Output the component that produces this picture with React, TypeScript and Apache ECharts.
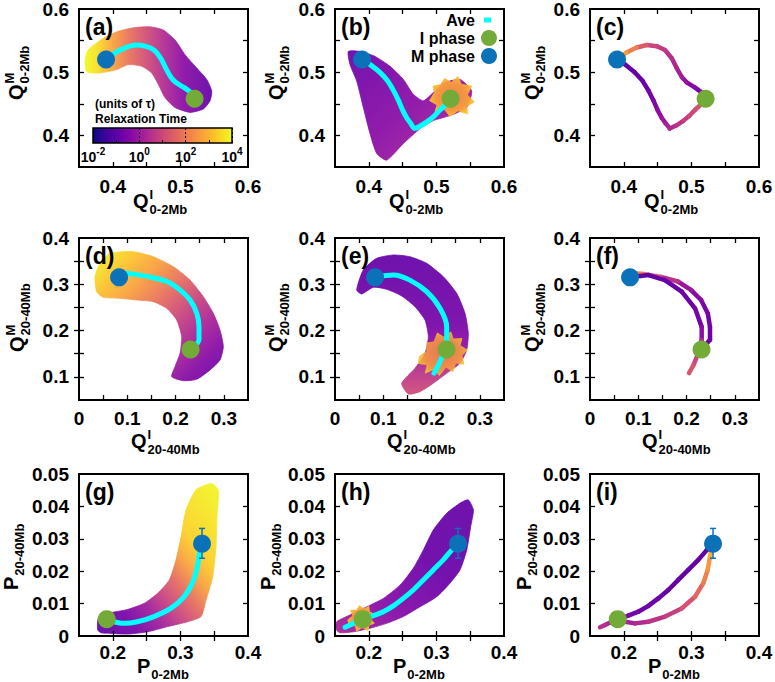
import React, { useEffect, useRef } from "react";
import * as echarts from "echarts";

const FONT = '"Liberation Sans", Arial, Helvetica, sans-serif';

// ---------------- axis ranges, tick labels, tick marks ----------------
const qShortRange = [0.35, 0.6];
const qShortLabels = [0.4, 0.5, 0.6];
const qShortTicks = [0.4, 0.45, 0.5, 0.55];
const qLongXRange = [0, 0.35];
const qLongXLabels = [0, 0.1, 0.2, 0.3];
const qLongXTicks = [0.05, 0.1, 0.15, 0.2, 0.25, 0.3];
const qLongYRange = [0.05, 0.4];
const qLongYLabels = [0.1, 0.2, 0.3, 0.4];
const qLongYTicks = [0.1, 0.15, 0.2, 0.25, 0.3, 0.35];
const pXRange = [0.15, 0.4];
const pXLabels = [0.2, 0.3, 0.4];
const pXTicks = [0.2, 0.25, 0.3, 0.35];
const pYRange = [0, 0.05];
const pYLabels = [0, 0.01, 0.02, 0.03, 0.04, 0.05];
const pYTicks = [0.01, 0.02, 0.03, 0.04];
const colorbarExponents = [-2, 0, 2, 4];

// ---------------- phase markers ----------------
const mPhaseQ02 = [[0.39, 0.52]];
const iPhaseQ02 = [[0.521, 0.458]];
const mPhaseQ2040 = [[0.083, 0.315]];
const iPhaseQ2040 = [[0.231, 0.159]];
const mPhaseP = [[0.332, 0.0285]];
const iPhaseP = [[0.191, 0.0052]];
const mPhasePErr = [[0.332, 0.0285, 0.024, 0.0332]]; // x, y, low, high

// ---------------- averaged trajectories [x, y, log10(relaxation time)] ----------------
const aveItoMQ02 = [
  [0.521, 0.46, -0.8], [0.515, 0.468, -0.7], [0.505, 0.476, -0.5], [0.493, 0.484, -0.2],
  [0.486, 0.492, 0.0], [0.478, 0.507, 0.3], [0.471, 0.522, 0.4], [0.461, 0.535, 0.6],
  [0.449, 0.541, 0.8], [0.434, 0.543, 1.1], [0.419, 0.539, 1.7], [0.404, 0.531, 2.5],
  [0.39, 0.52, 2.8],
];
const aveMtoIQ02 = [
  [0.39, 0.52, -0.9], [0.402, 0.512, -0.9], [0.416, 0.5, -0.85], [0.428, 0.486, -0.8],
  [0.437, 0.47, -0.7], [0.444, 0.455, -0.5], [0.45, 0.44, -0.3], [0.456, 0.428, -0.1],
  [0.462, 0.419, 0.1], [0.468, 0.411, 0.3], [0.478, 0.416, 0.5], [0.488, 0.423, 0.7],
  [0.497, 0.431, 0.9], [0.506, 0.441, 1.1], [0.515, 0.45, 1.3], [0.521, 0.458, 1.5],
];
const aveItoMQ2040 = [
  [0.232, 0.16, -0.8], [0.2485, 0.18, -0.75], [0.2485, 0.208, -0.7], [0.244, 0.237, -0.6],
  [0.23, 0.266, -0.45], [0.209, 0.288, -0.2], [0.182, 0.306, 0.2], [0.147, 0.316, 0.9],
  [0.1125, 0.322, 1.7], [0.092, 0.324, 2.4], [0.083, 0.315, 2.9],
];
const aveMtoIQ2040 = [
  [0.083, 0.315, -0.9], [0.121, 0.32, -0.9], [0.155, 0.309, -0.85], [0.19, 0.284, -0.8],
  [0.2175, 0.248, -0.7], [0.2313, 0.208, -0.5], [0.2313, 0.18, 0.0], [0.2243, 0.151, 0.7],
  [0.214, 0.125, 1.2], [0.205, 0.108, 1.5],
];
const aveItoMP = [
  [0.191, 0.0052, -0.2], [0.2018, 0.0044, 0.1], [0.2166, 0.0039, 0.3], [0.2363, 0.0044, 0.5],
  [0.261, 0.006, 0.7], [0.2856, 0.0085, 1.0], [0.3053, 0.0121, 1.4], [0.3176, 0.0163, 1.9],
  [0.3241, 0.0204, 2.3], [0.3275, 0.0245, 2.7], [0.33, 0.0271, 3.1], [0.332, 0.0283, 3.3],
];
const aveMtoIP = [
  [0.332, 0.0283, -0.9], [0.3226, 0.0265, -0.9], [0.3102, 0.0235, -0.9], [0.2954, 0.0204, -0.85],
  [0.2806, 0.0173, -0.85], [0.2658, 0.0142, -0.8], [0.251, 0.0116, -0.8], [0.2363, 0.0093, -0.75],
  [0.2215, 0.0075, -0.7], [0.2067, 0.0063, -0.6], [0.191, 0.0052, -0.3], [0.1821, 0.0044, 0.1],
  [0.1722, 0.0034, 0.4], [0.1648, 0.0027, 0.6],
];

// ---------------- outlines of the bundles of individual trajectories ----------------
const bundleA = [
  [0.359, 0.52], [0.3638, 0.5355], [0.386, 0.5536], [0.4058, 0.564], [0.4303, 0.5703],
  [0.455, 0.5719], [0.4747, 0.5667], [0.492, 0.551], [0.5068, 0.5277], [0.5241, 0.5067],
  [0.5389, 0.4886], [0.5463, 0.4703], [0.5438, 0.4547], [0.5339, 0.4417], [0.5142, 0.4364],
  [0.492, 0.4442], [0.4772, 0.4598], [0.4673, 0.4808], [0.4575, 0.4989], [0.4427, 0.5094],
  [0.4229, 0.512], [0.4058, 0.5042], [0.3811, 0.4989], [0.3614, 0.5005],
];
const bundleB = [
  [0.3697, 0.5328], [0.387, 0.5328], [0.4092, 0.525], [0.4314, 0.5094], [0.4511, 0.4886],
  [0.4658, 0.4652], [0.4806, 0.4547], [0.4954, 0.4677], [0.5127, 0.4833], [0.5349, 0.4886],
  [0.5522, 0.4703], [0.5448, 0.4442], [0.5201, 0.4313], [0.4954, 0.4234], [0.4757, 0.4105],
  [0.4511, 0.387], [0.4265, 0.3609], [0.4117, 0.3714], [0.4018, 0.4027], [0.3919, 0.4442],
  [0.3821, 0.4859], [0.3722, 0.512],
];
const bundleD = [
  [0.0331, 0.3164], [0.0435, 0.3453], [0.0642, 0.3669], [0.1125, 0.3704], [0.1539, 0.3596],
  [0.1953, 0.338], [0.2299, 0.3093], [0.2575, 0.2732], [0.2782, 0.2373], [0.292, 0.2012],
  [0.2989, 0.1652], [0.292, 0.1364], [0.2713, 0.1148], [0.2437, 0.0947], [0.216, 0.0917],
  [0.192, 0.1003], [0.1988, 0.1219], [0.2092, 0.1509], [0.2127, 0.1868], [0.2023, 0.2228],
  [0.1816, 0.2481], [0.1539, 0.2624], [0.1194, 0.266], [0.0849, 0.2697], [0.0503, 0.2719],
  [0.0366, 0.284],
];
const bundleE = [
  [0.0449, 0.2877], [0.0586, 0.3309], [0.0863, 0.3561], [0.1208, 0.3633], [0.1553, 0.3596],
  [0.19, 0.3453], [0.2243, 0.3164], [0.252, 0.2805], [0.2692, 0.2373], [0.2761, 0.1941],
  [0.2727, 0.158], [0.2589, 0.1293], [0.2313, 0.1077], [0.2036, 0.0861], [0.176, 0.0679],
  [0.1518, 0.0629], [0.1381, 0.0861], [0.1657, 0.1185], [0.1864, 0.1509], [0.1933, 0.1868],
  [0.1864, 0.2228], [0.1657, 0.2516], [0.1381, 0.2747], [0.107, 0.2892], [0.0793, 0.2935],
  [0.0553, 0.279],
];
const bundleG = [
  [0.1776, 0.0019], [0.1786, 0.0055], [0.1925, 0.007], [0.222, 0.0082], [0.2466, 0.0101],
  [0.2664, 0.0132], [0.2836, 0.0173], [0.2935, 0.0235], [0.3009, 0.0306], [0.3083, 0.0389],
  [0.3231, 0.0451], [0.3453, 0.0471], [0.3561, 0.0451], [0.3541, 0.0368], [0.3527, 0.0276],
  [0.3478, 0.0183], [0.3379, 0.0111], [0.3305, 0.006], [0.3108, 0.0044], [0.2812, 0.0029],
  [0.2516, 0.0013], [0.222, 0.0006], [0.1973, 0.0008], [0.1825, 0.001],
];
const bundleH = [
  [0.152, 0.0019], [0.1525, 0.0044], [0.1722, 0.0065], [0.1969, 0.009], [0.2215, 0.0116],
  [0.2462, 0.0157], [0.2658, 0.0209], [0.2806, 0.0265], [0.2954, 0.0327], [0.3152, 0.0379],
  [0.3349, 0.041], [0.3472, 0.042], [0.3547, 0.0389], [0.3507, 0.0337], [0.3448, 0.0265],
  [0.3349, 0.0204], [0.3201, 0.0163], [0.3004, 0.0121], [0.2757, 0.009], [0.2511, 0.006],
  [0.2265, 0.0039], [0.2018, 0.0024], [0.1771, 0.0013], [0.1574, 0.001],
];
// late-time (hot) clouds around the I phase
const hotB = [
  [0.49, 0.455], [0.497, 0.468], [0.495, 0.478], [0.506, 0.48], [0.512, 0.49], [0.522, 0.484],
  [0.532, 0.493], [0.537, 0.481], [0.552, 0.478], [0.546, 0.464], [0.556, 0.453], [0.545, 0.446],
  [0.546, 0.434], [0.532, 0.439], [0.52, 0.43], [0.512, 0.441], [0.498, 0.438], [0.501, 0.448],
];
const hotE = [
  [0.175, 0.145], [0.19, 0.155], [0.19, 0.173], [0.205, 0.176], [0.212, 0.195], [0.225, 0.186],
  [0.24, 0.197], [0.245, 0.182], [0.263, 0.183], [0.259, 0.168], [0.274, 0.158], [0.263, 0.146],
  [0.267, 0.127], [0.25, 0.13], [0.244, 0.111], [0.23, 0.121], [0.216, 0.103], [0.206, 0.117],
  [0.187, 0.108], [0.191, 0.126], [0.172, 0.129],
];
const hotH = [
  [0.169, 0.005], [0.176, 0.0062], [0.173, 0.008], [0.182, 0.0079], [0.186, 0.0094], [0.193, 0.0084],
  [0.2, 0.0091], [0.201, 0.0075], [0.207, 0.0068], [0.203, 0.0052], [0.208, 0.0039], [0.2, 0.0033],
  [0.199, 0.0017], [0.19, 0.0026], [0.182, 0.0015], [0.18, 0.0031], [0.171, 0.0033],
];

// ---------------- texts ----------------
const panelLetters = ["(a)", "(b)", "(c)", "(d)", "(e)", "(f)", "(g)", "(h)", "(i)"];
const rowXTitles = [["Q", "I", "0-2Mb"], ["Q", "I", "20-40Mb"], ["P", "", "0-2Mb"]];
const rowYTitles = [["Q", "M", "0-2Mb"], ["Q", "M", "20-40Mb"], ["P", "", "20-40Mb"]];
const legendNames = ["Ave", "I phase", "M phase"];
const colorbarTitle = ["(units of \u03c4)", "Relaxation Time"];

// ---------------- style / layout ----------------
const COL_LEFT = [79, 335, 590];
const COL_W = 169;
const ROW_TOP = [9, 238, 474];
const ROW_H = [158, 162, 162];
const BLUE = "#0b72b9";
const GREEN = "#72ab37";
const CYAN = "#00ffff";
const PLASMA = ["#0d0887", "#41049d", "#6a00a8", "#8f0da4", "#b12a90", "#cc4778",
  "#e16462", "#f2844b", "#fca636", "#fcce25", "#f0f921"];

function hexRgb(h: string) {
  return [parseInt(h.slice(1, 3), 16), parseInt(h.slice(3, 5), 16), parseInt(h.slice(5, 7), 16)];
}
function plasma(logT: number) {
  const t = Math.min(1, Math.max(0, (logT + 2) / 6));
  const f = t * 10;
  const i = Math.min(9, Math.floor(f));
  const r = f - i;
  const a = hexRgb(PLASMA[i]);
  const b = hexRgb(PLASMA[i + 1]);
  const c = a.map((v, k) => Math.round(v + (b[k] - v) * r));
  return `rgb(${c[0]},${c[1]},${c[2]})`;
}
function lg(x0: number, y0: number, x1: number, y1: number, stops: number[][]) {
  return new echarts.graphic.LinearGradient(x0, y0, x1, y1,
    stops.map(([o, l]) => ({ offset: o, color: plasma(l) })));
}
function hotFill() {
  return new echarts.graphic.RadialGradient(0.5, 0.5, 0.65, [
    { offset: 0, color: plasma(2.2) }, { offset: 0.55, color: plasma(2.7) }, { offset: 1, color: plasma(3.7) },
  ]);
}

function bandSeries(env: number[][], fill: any, gi: number, z = 1, smooth = 0.2, opacity = 0.93) {
  return {
    type: "custom", xAxisIndex: gi, yAxisIndex: gi, data: env, z, silent: true, clip: true,
    renderItem: (params: any, api: any) => {
      if (params.dataIndex !== 0) return null;
      const pts = env.map((p) => api.coord(p));
      return { type: "polygon", shape: { points: pts, smooth }, style: { fill, stroke: fill, lineWidth: 0.8, opacity } };
    },
  };
}
function aveSeries(data: number[][], gi: number) {
  return {
    type: "line", name: "Ave", xAxisIndex: gi, yAxisIndex: gi, z: 3, silent: true,
    data: data.map((p) => [p[0], p[1]]), showSymbol: false, smooth: 0.3,
    lineStyle: { color: CYAN, width: 5, cap: "round", opacity: 1 },
  };
}
function segSeries(data: number[][], gi: number) {
  return {
    type: "custom", xAxisIndex: gi, yAxisIndex: gi, data, z: 3, silent: true,
    renderItem: (params: any, api: any) => {
      const i = params.dataIndex;
      if (i === 0) return null;
      const a = api.coord([data[i - 1][0], data[i - 1][1]]);
      const b = api.coord([data[i][0], data[i][1]]);
      return {
        type: "line", shape: { x1: a[0], y1: a[1], x2: b[0], y2: b[1] },
        style: { stroke: plasma((data[i - 1][2] + data[i][2]) / 2), lineWidth: 4.5, lineCap: "round" },
      };
    },
  };
}
function markerSeries(iData: number[][], mData: number[][], gi: number) {
  return [
    { type: "scatter", name: "I phase", xAxisIndex: gi, yAxisIndex: gi, data: iData, symbolSize: 18, z: 5, silent: true, itemStyle: { color: GREEN, opacity: 1 } },
    { type: "scatter", name: "M phase", xAxisIndex: gi, yAxisIndex: gi, data: mData, symbolSize: 18, z: 5, silent: true, itemStyle: { color: BLUE, opacity: 1 } },
  ];
}
function errSeries(data: number[][], gi: number) {
  return {
    type: "custom", xAxisIndex: gi, yAxisIndex: gi, data, z: 4, silent: true,
    renderItem: (params: any, api: any) => {
      const x = api.value(0);
      const lo = api.coord([x, api.value(2)]);
      const hi = api.coord([x, api.value(3)]);
      const st = { stroke: BLUE, lineWidth: 1.5 };
      return {
        type: "group", children: [
          { type: "line", shape: { x1: lo[0], y1: lo[1], x2: hi[0], y2: hi[1] }, style: st },
          { type: "line", shape: { x1: lo[0] - 3, y1: lo[1], x2: lo[0] + 3, y2: lo[1] }, style: st },
          { type: "line", shape: { x1: hi[0] - 3, y1: hi[1], x2: hi[0] + 3, y2: hi[1] }, style: st },
        ],
      };
    },
  };
}

function axisTitle(x: number, y: number, rotate: boolean, parts: string[]) {
  const [main, sup, sub] = parts;
  const mw = main === "Q" ? 15.6 : 13.3;
  const children: any[] = [
    { type: "text", x: 0, y: 0, style: { text: main, font: `bold 20px ${FONT}`, fill: "#000", align: "left", verticalAlign: "middle" } },
  ];
  if (sup) children.push({ type: "text", x: mw + 1, y: -7, style: { text: sup, font: `bold 13px ${FONT}`, fill: "#000", align: "left", verticalAlign: "middle" } });
  children.push({ type: "text", x: mw + 1, y: 8, style: { text: sub, font: `bold 13px ${FONT}`, fill: "#000", align: "left", verticalAlign: "middle" } });
  return { type: "group", x, y, rotation: rotate ? Math.PI / 2 : 0, silent: true, children };
}

function buildOption() {
  const rowAxes = [
    { xr: qShortRange, xl: qShortLabels, xt: qShortTicks, yr: qShortRange, yl: qShortLabels, yt: qShortTicks },
    { xr: qLongXRange, xl: qLongXLabels, xt: qLongXTicks, yr: qLongYRange, yl: qLongYLabels, yt: qLongYTicks },
    { xr: pXRange, xl: pXLabels, xt: pXTicks, yr: pYRange, yl: pYLabels, yt: pYTicks },
  ];
  const xLabelMargin = [10, 9, 7];
  const grid: any[] = [];
  const xMain: any[] = [], xMirror: any[] = [], yMain: any[] = [], yMirror: any[] = [];
  const tickStyle = { color: "#000", width: 1.3 };
  const labelStyle = { color: "#000", fontSize: 19, fontWeight: "bold", fontFamily: FONT };
  for (let i = 0; i < 9; i++) {
    const r = Math.floor(i / 3), c = i % 3;
    const ax = rowAxes[r];
    grid.push({
      left: COL_LEFT[c], top: ROW_TOP[r], width: COL_W, height: ROW_H[r],
      show: true, borderColor: "#000", borderWidth: 2, backgroundColor: "transparent",
      containLabel: false, outerBoundsMode: "none", z: 10,
    });
    const base = (range: number[]) => ({
      type: "value", gridIndex: i, min: range[0], max: range[1], z: 10,
      axisLine: { show: false }, splitLine: { show: false },
    });
    xMain.push({
      ...base(ax.xr), position: "bottom",
      axisTick: { show: true, inside: true, length: 5, customValues: ax.xt, lineStyle: tickStyle },
      axisLabel: { show: true, customValues: ax.xl, margin: xLabelMargin[r], ...labelStyle },
    });
    xMirror.push({
      ...base(ax.xr), position: "top",
      axisTick: { show: true, inside: true, length: 5, customValues: ax.xt, lineStyle: tickStyle },
      axisLabel: { show: false },
    });
    yMain.push({
      ...base(ax.yr), position: "left",
      axisTick: { show: true, inside: true, length: 5, customValues: ax.yt, lineStyle: tickStyle },
      axisLabel: { show: true, customValues: ax.yl, margin: 10, ...labelStyle },
    });
    yMirror.push({
      ...base(ax.yr), position: "right",
      axisTick: { show: true, inside: true, length: 5, customValues: ax.yt, lineStyle: tickStyle },
      axisLabel: { show: false },
    });
  }
  // colour bar (grid 9, axes 18)
  grid.push({ left: 93, top: 128, width: 139, height: 15, show: false, containLabel: false, outerBoundsMode: "none" });
  const cbX = {
    type: "value", gridIndex: 9, min: colorbarExponents[0], max: colorbarExponents[colorbarExponents.length - 1],
    interval: 2, position: "bottom", z: 10,
    axisLine: { show: false },
    axisTick: { show: true, inside: true, length: 3, lineStyle: { color: "#000", width: 1 } },
    minorTick: { show: true, splitNumber: 2, length: 3, lineStyle: { color: "#000", width: 1 } },
    splitLine: { show: true, lineStyle: { color: "#000", width: 1, type: [2, 2] } },
    axisLabel: {
      margin: 3, formatter: (v: number) => `{b|10}{s|${v}}`,
      rich: {
        b: { fontSize: 14, fontWeight: "bold", fontFamily: FONT, color: "#000", lineHeight: 21 },
        s: { fontSize: 10, fontWeight: "bold", fontFamily: FONT, color: "#000", verticalAlign: "top", lineHeight: 11 },
      },
    },
  };
  const cbY = { type: "value", gridIndex: 9, min: 0, max: 1, show: false };

  const barFill = new echarts.graphic.LinearGradient(0, 0, 1, 0,
    PLASMA.map((col, k) => ({ offset: k / (PLASMA.length - 1), color: col })));

  const gradA = lg(0, 0, 1, 0, [[0, 4], [0.1, 3.6], [0.22, 2.7], [0.35, 1.8], [0.5, 1.0], [0.62, 0.4], [0.78, -0.3], [1, -0.9]]);
  const gradB = lg(0, 0, 1, 1, [[0, -0.8], [0.5, -0.3], [0.8, 0.1], [1, 0.5]]);
  const gradD = lg(0, 0, 1, 1, [[0, 4], [0.15, 3.3], [0.3, 2.6], [0.45, 1.7], [0.6, 0.8], [0.72, 0.2], [0.85, -0.4], [1, -0.8]]);
  const gradE = lg(0, 0, 0, 1, [[0, -0.9], [0.5, -0.6], [0.65, -0.2], [0.8, 0.4], [1, 1.1]]);
  const gradG = lg(0, 1, 1, 0, [[0, -1.0], [0.18, -0.6], [0.3, 0.1], [0.4, 0.9], [0.5, 1.7], [0.6, 2.7], [0.7, 3.4], [1, 4]]);
  const gradH = lg(0, 1, 1, 0, [[0, 0.2], [0.3, -0.4], [0.6, -0.8], [1, -0.9]]);

  const series: any[] = [
    // (a)
    bandSeries(bundleA, gradA, 0), aveSeries(aveItoMQ02, 0), ...markerSeries(iPhaseQ02, mPhaseQ02, 0),
    // (b)
    bandSeries(bundleB, gradB, 1), bandSeries(hotB, hotFill(), 1, 2, 0, 0.95), aveSeries(aveMtoIQ02, 1),
    ...markerSeries(iPhaseQ02, mPhaseQ02, 1),
    // (c)
    segSeries(aveItoMQ02, 2), segSeries(aveMtoIQ02, 2), ...markerSeries(iPhaseQ02, mPhaseQ02, 2),
    // (d)
    bandSeries(bundleD, gradD, 3), aveSeries(aveItoMQ2040, 3), ...markerSeries(iPhaseQ2040, mPhaseQ2040, 3),
    // (e)
    bandSeries(bundleE, gradE, 4), bandSeries(hotE, hotFill(), 4, 2, 0, 0.85), aveSeries(aveMtoIQ2040, 4),
    ...markerSeries(iPhaseQ2040, mPhaseQ2040, 4),
    // (f)
    segSeries(aveItoMQ2040, 5), segSeries(aveMtoIQ2040, 5), ...markerSeries(iPhaseQ2040, mPhaseQ2040, 5),
    // (g)
    bandSeries(bundleG, gradG, 6), aveSeries(aveItoMP, 6), errSeries(mPhasePErr, 6), ...markerSeries(iPhaseP, mPhaseP, 6),
    // (h)
    bandSeries(bundleH, gradH, 7), bandSeries(hotH, hotFill(), 7, 2, 0, 0.95), aveSeries(aveMtoIP, 7),
    errSeries(mPhasePErr, 7), ...markerSeries(iPhaseP, mPhaseP, 7),
    // (i)
    segSeries(aveItoMP, 8), segSeries(aveMtoIP, 8), errSeries(mPhasePErr, 8), ...markerSeries(iPhaseP, mPhaseP, 8),
    // colour bar
    {
      type: "custom", xAxisIndex: 18, yAxisIndex: 18, data: [[colorbarExponents[0], 0]], z: 2, silent: true,
      renderItem: (params: any, api: any) => {
        const a = api.coord([colorbarExponents[0], 1]);
        const b = api.coord([colorbarExponents[colorbarExponents.length - 1], 0]);
        return { type: "rect", shape: { x: a[0], y: a[1], width: b[0] - a[0], height: b[1] - a[1] }, style: { fill: barFill, stroke: "#000", lineWidth: 1.5 } };
      },
    },
  ];

  const graphic: any[] = [];
  const xTitleOffset = [54, 52, 58];
  const xTitleY = [201, 441, 666];
  const yTitleX = [[16, 276, 532], [17, 276, 532], [11, 268, 524]];
  const yTitleBottom = [100, 352, 590];
  for (let i = 0; i < 9; i++) {
    const r = Math.floor(i / 3), c = i % 3;
    graphic.push({
      type: "text", x: COL_LEFT[c] + 6, y: ROW_TOP[r] + 18, silent: true, z: 20,
      style: { text: panelLetters[i], font: `bold 23px ${FONT}`, fill: "#000", align: "left", verticalAlign: "middle" },
    });
    graphic.push(axisTitle(COL_LEFT[c] + xTitleOffset[r], xTitleY[r], false, rowXTitles[r]));
    graphic.push(axisTitle(yTitleX[r][c], yTitleBottom[r], true, rowYTitles[r]));
  }
  // legend in (b)
  const legY = [20, 38, 56];
  legendNames.forEach((n, k) => {
    graphic.push({
      type: "text", x: 475, y: legY[k], silent: true, z: 20,
      style: { text: n, font: `bold 16px ${FONT}`, fill: "#000", align: "right", verticalAlign: "middle" },
    });
  });
  graphic.push({ type: "rect", shape: { x: 484, y: legY[0] - 2.5, width: 7, height: 5 }, style: { fill: CYAN }, silent: true, z: 20 });
  graphic.push({ type: "circle", shape: { cx: 489, cy: legY[1], r: 8 }, style: { fill: GREEN }, silent: true, z: 20 });
  graphic.push({ type: "circle", shape: { cx: 489, cy: legY[2], r: 8 }, style: { fill: BLUE }, silent: true, z: 20 });
  // colour bar title
  graphic.push({ type: "text", x: 95, y: 104, silent: true, z: 20, style: { text: colorbarTitle[0], font: `bold 12px ${FONT}`, fill: "#000", align: "left", verticalAlign: "middle" } });
  graphic.push({ type: "text", x: 95, y: 119, silent: true, z: 20, style: { text: colorbarTitle[1], font: `bold 12px ${FONT}`, fill: "#000", align: "left", verticalAlign: "middle" } });

  return {
    animation: false,
    backgroundColor: "#fff",
    textStyle: { fontFamily: FONT },
    grid,
    xAxis: [...xMain, ...xMirror, cbX],
    yAxis: [...yMain, ...yMirror, cbY],
    series,
    graphic,
  };
}

export default function App() {
  const ref = useRef<HTMLDivElement>(null);
  useEffect(() => {
    if (!ref.current) return;
    const chart = echarts.init(ref.current, null, { renderer: "svg" });
    chart.setOption(buildOption() as any);
    return () => chart.dispose();
  }, []);
  return (
    <div
      ref={ref}
      style={{ position: "fixed", left: 0, top: 0, width: 775, height: 682, background: "#fff" }}
    />
  );
}
